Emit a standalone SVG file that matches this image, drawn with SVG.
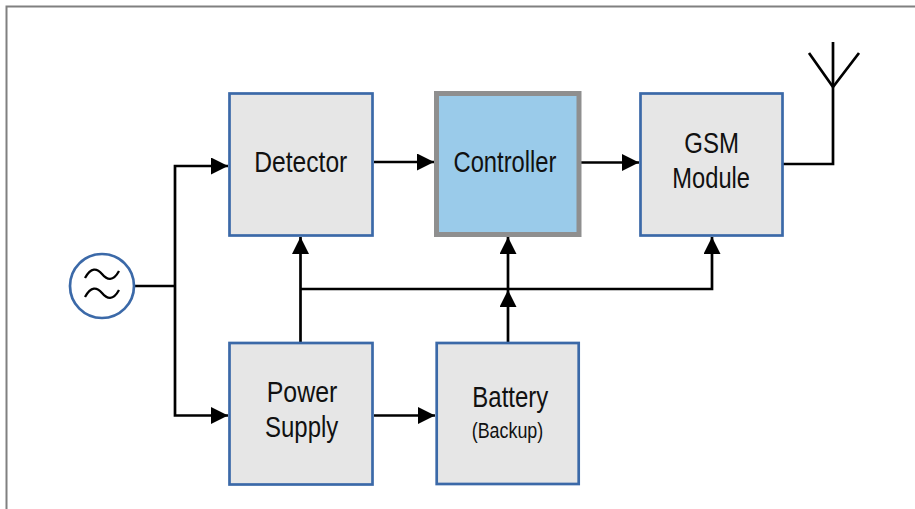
<svg xmlns="http://www.w3.org/2000/svg" width="915" height="509" viewBox="0 0 915 509">
<style>
.box{fill:#e6e6e6;stroke:#3b69a8;stroke-width:2.7}
.ctl{fill:#9acbea;stroke:#8f8f8f;stroke-width:5}
.wire{fill:none;stroke:#000;stroke-width:2.7}
.lbl{font-family:"Liberation Sans",Arial,sans-serif;font-size:29px;fill:#111;text-anchor:middle}
.sm{font-size:22.5px}
</style>
<defs>
<marker id="ah" viewBox="0 0 17 17" refX="17" refY="8.5" markerWidth="17" markerHeight="17" markerUnits="userSpaceOnUse" orient="auto">
<path d="M0,0 L17,8.5 L0,17 z" fill="#000"/>
</marker>
</defs>
<rect width="915" height="509" fill="#fff"/>
<path d="M6.5,509 V6.5 H915" fill="none" stroke="#808080" stroke-width="2"/>

<g id="connectors">
<path class="wire" d="M134,286 H175" stroke-width="2.2"/>
<path class="wire" d="M175,286 V166 H228" marker-end="url(#ah)"/>
<path class="wire" d="M175,286 V415.5 H228" marker-end="url(#ah)"/>
<path class="wire" d="M374,162 H434" marker-end="url(#ah)"/>
<path class="wire" d="M581,162.5 H639" marker-end="url(#ah)"/>
<path class="wire" d="M374,415.5 H435" marker-end="url(#ah)"/>
<path class="wire" d="M300.5,342 V237" marker-end="url(#ah)"/>
<path class="wire" d="M300.5,289 H712 V237" marker-end="url(#ah)"/>
<path class="wire" d="M508,289 V237" marker-end="url(#ah)"/>
<path class="wire" d="M508,342 V290" marker-end="url(#ah)"/>
<path class="wire" d="M783,164 H833 V42" stroke-width="3"/>
<path class="wire" d="M809,53 L833,87 L859,53" stroke-width="3"/>
</g>

<g id="source">
<circle cx="102" cy="286" r="32" fill="#fff" stroke="#3b69a8" stroke-width="2.7"/>
<path d="M85,278 C91,267 97,268 102,274 C107,280 113,282 119,271 M85,297 C91,286 97,287 102,293 C107,299 113,301 119,290" fill="none" stroke="#000" stroke-width="2.3"/>
</g>

<g id="detector">
<rect class="box" x="229.5" y="93.5" width="143" height="142"/>
<text class="lbl" x="300.8" y="172" textLength="93" lengthAdjust="spacingAndGlyphs">Detector</text>
</g>

<g id="controller">
<rect class="ctl" x="436.5" y="93.5" width="142.5" height="141"/>
<text class="lbl" x="505" y="172" textLength="103" lengthAdjust="spacingAndGlyphs">Controller</text>
</g>

<g id="gsm">
<rect class="box" x="640.5" y="93.5" width="142" height="142"/>
<text class="lbl" x="711.7" y="153.3" textLength="54.7" lengthAdjust="spacingAndGlyphs">GSM</text>
<text class="lbl" x="711.2" y="188.3" textLength="77.7" lengthAdjust="spacingAndGlyphs">Module</text>
</g>

<g id="power">
<rect class="box" x="229.5" y="343" width="143" height="141.5"/>
<text class="lbl" x="302" y="402.3" textLength="70.6" lengthAdjust="spacingAndGlyphs">Power</text>
<text class="lbl" x="301.7" y="436.7" textLength="73.3" lengthAdjust="spacingAndGlyphs">Supply</text>
</g>

<g id="battery">
<rect class="box" x="436.7" y="343" width="142" height="141"/>
<text class="lbl" x="510.3" y="407.3" textLength="76" lengthAdjust="spacingAndGlyphs">Battery</text>
<text class="lbl sm" x="507.5" y="438.3" textLength="71.6" lengthAdjust="spacingAndGlyphs">(Backup)</text>
</g>
</svg>
